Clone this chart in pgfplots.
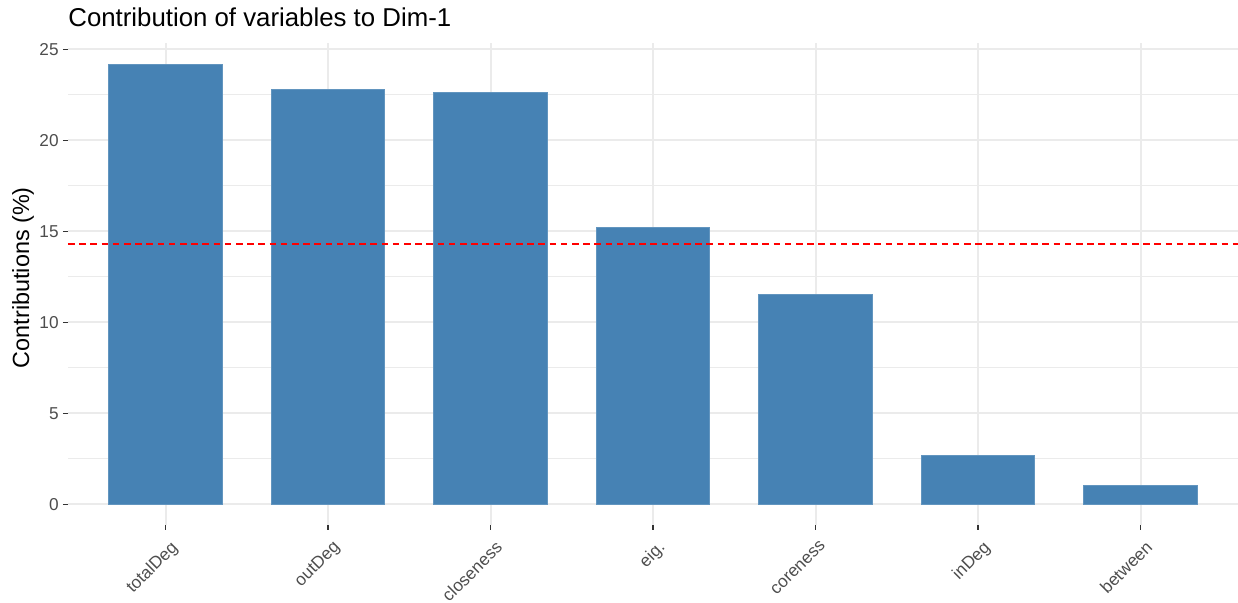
\documentclass[border=0pt]{standalone}
\usepackage{fontspec}
\setmainfont{Liberation Sans}
\usepackage{pgfplots}
\pgfplotsset{compat=1.18}
\definecolor{steelblue}{HTML}{4682B4}
\definecolor{gridgray}{HTML}{EBEBEB}
\definecolor{gray30}{HTML}{4D4D4D}
\definecolor{gray20}{HTML}{333333}
\begin{document}
\begin{tikzpicture}
\path[use as bounding box] (0,0) rectangle (619pt,301.5pt);
\begin{axis}[
  at={(34pt,39pt)}, anchor=south west,
  scale only axis, width=585pt, height=241pt,
  xmin=-0.6, xmax=6.6, ymin=-1.14, ymax=25.35,
  xtick={0,...,6},
  xticklabels={totalDeg,outDeg,closeness,eig.,coreness,inDeg,between},
  ytick={0,5,...,25},
  minor ytick={2.5,7.5,...,22.5},
  xmajorgrids, ymajorgrids, yminorgrids,
  major grid style={draw=gridgray, line width=1pt},
  minor grid style={draw=gridgray, line width=0.6pt},
  axis line style={draw=none},
  tick pos=left, tick align=outside,
  major tick length=2.5pt, minor tick length=0pt,
  tick style={gray20, line width=0.6pt},
  /pgf/number format/assume math mode=true,
  tick label style={font=\fontsize{8.6}{10}\selectfont, text=gray30},
  x tick label style={xshift=2pt, yshift=-2.5pt, rotate=45, anchor=north east, inner sep=1.5pt},
  y tick label style={inner sep=2pt},
  ylabel={Contributions (\%)},
  ylabel style={at={(axis description cs:-0.0385,0.513)}, anchor=center, font=\fontsize{11.7}{13}\selectfont},
  every axis title shift=0pt,
  title={Contribution of variables to Dim-1},
  title style={at={(axis description cs:0,1)}, anchor=base west, inner sep=0pt, yshift=8pt, font=\fontsize{12.9}{15}\selectfont},
]
\addplot[ybar, bar width=0.7, bar shift=0pt, fill=steelblue, draw=steelblue!85!white, line width=0.4pt]
  coordinates {(0,24.17) (1,22.80) (2,22.64) (3,15.20) (4,11.52) (5,2.67) (6,1.05)};
\addplot[red, line width=1pt, dash pattern=on 3.3pt off 2.3pt, sharp plot]
  coordinates {(-0.6,14.2857) (6.6,14.2857)};
\end{axis}
\end{tikzpicture}
\end{document}
